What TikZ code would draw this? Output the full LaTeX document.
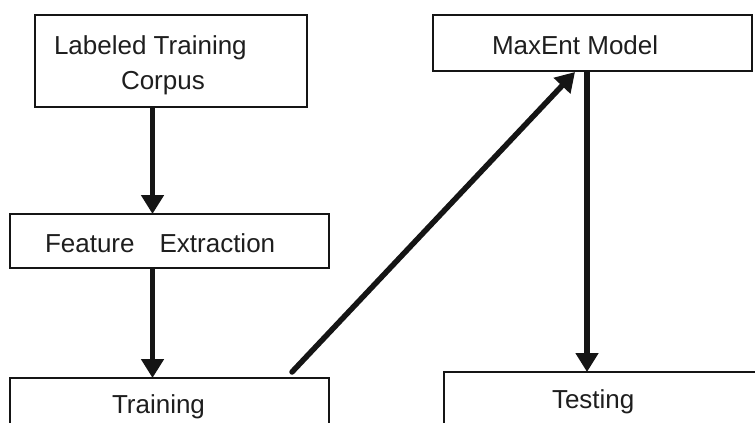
\documentclass[tikz,border=0pt]{standalone}
\usepackage{fontspec}
\setmainfont{Liberation Sans}
\usetikzlibrary{arrows.meta,calc}
\definecolor{linec}{HTML}{151515}
\definecolor{textc}{HTML}{1E1E1E}
\begin{document}
\begin{tikzpicture}[x=1pt,y=-1pt,
  box/.style={draw=linec,line width=1.7pt,inner sep=0pt,outer sep=0pt},
  lbl/.style={text=textc,inner sep=0pt,outer sep=0pt,font=\fontsize{26}{35}\selectfont},
  arr/.style={draw=linec,line width=5.5pt,-{Triangle[width=22pt,length=19pt]}}]
\useasboundingbox (0,0) rectangle (755,423);
\clip (0,0) rectangle (755,423);
\fill[white] (0,0) rectangle (755,423);
% boxes
\node[box,minimum width=272pt,minimum height=92pt] (b1) at (171,61) {};
\node[box,minimum width=319pt,minimum height=54pt] (b2) at (169.5,241) {};
\node[box,minimum width=319pt,minimum height=82pt] (b3) at (169.5,419) {};
\node[box,minimum width=319pt,minimum height=56pt] (b4) at (592.5,43) {};
\node[box,minimum width=336pt,minimum height=88pt] (b5) at (612,416) {};
% labels
\node[lbl,anchor=base west] (t1) at (54,54) {\vtop{\baselineskip=35pt\hbox{Labeled Training}\hbox{\hspace*{67pt}Corpus}}};
\node[lbl,anchor=base west] (t2) at (45,252) {Feature\hspace{25pt}Extraction};
\node[lbl,anchor=base west] (t3) at (112,413) {Training};
\node[lbl,anchor=base west] (t4) at (492,54) {MaxEnt Model};
\node[lbl,anchor=base west] (t5) at (552,408) {Testing};
% connectors
\draw[arr] (152.5,0 |- b1.south) -- (152.5,0 |- b2.north);
\draw[arr] (152.5,0 |- b2.south) -- (152.5,0 |- b3.north);
\draw[arr,line cap=round] ($(b3.north west)+(282,-6)$) -- ($(b4.south west)+(142,1)$);
\draw[arr] (587,0 |- b4.south) -- (587,0 |- b5.north);
\end{tikzpicture}
\end{document}
